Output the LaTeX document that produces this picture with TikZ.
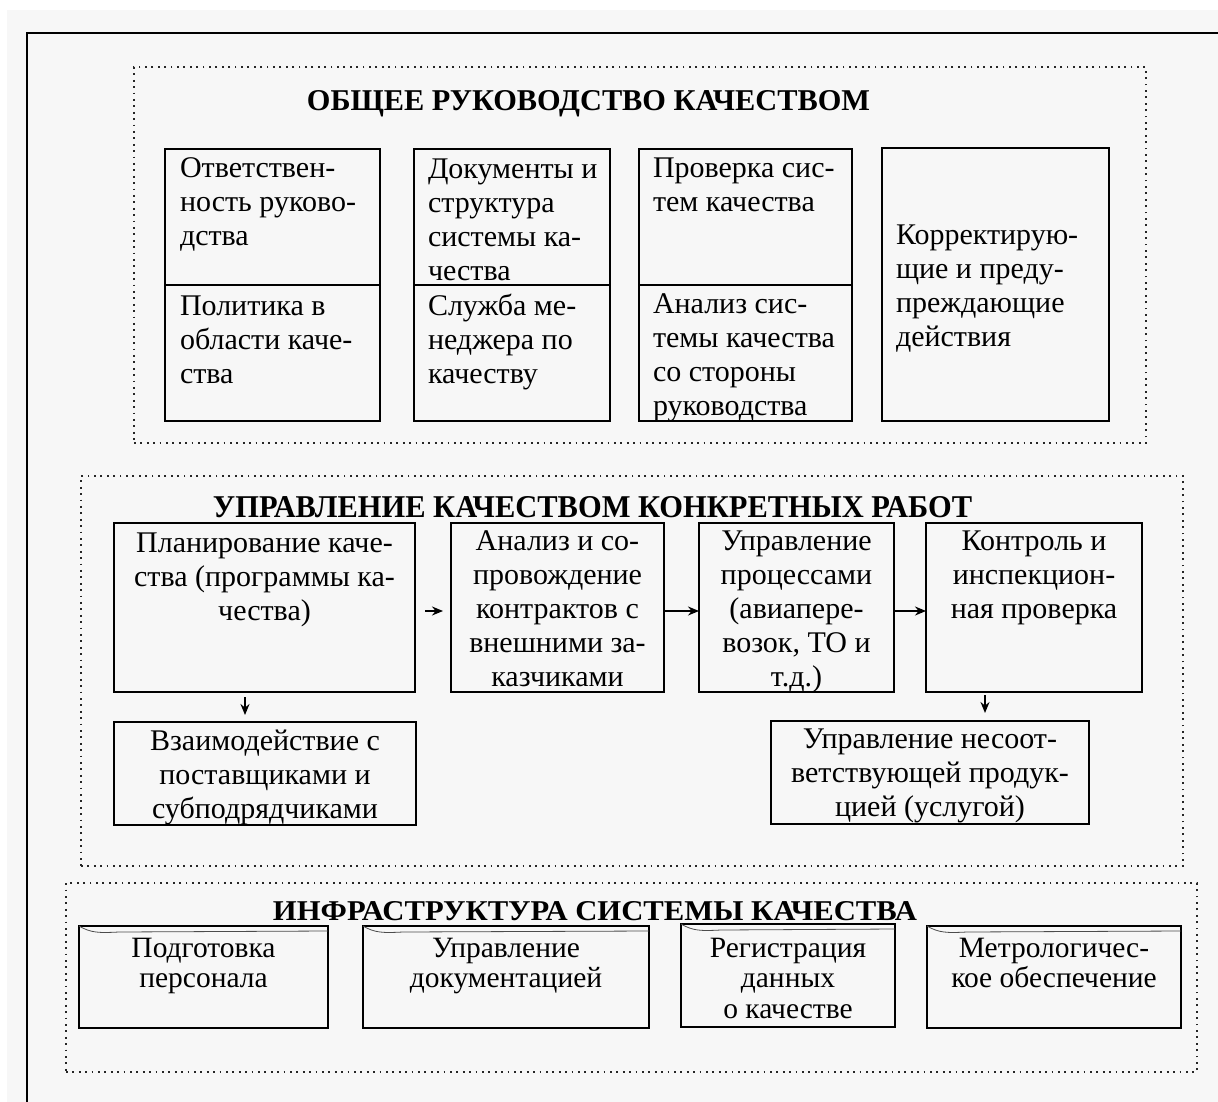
\documentclass[tikz,border=0pt]{standalone}
\usepackage{fontspec}
\usepackage{graphicx}
\setmainfont{Liberation Serif}
\usetikzlibrary{arrows.meta,calc}
\definecolor{paper}{HTML}{F7F7F7}
\newcommand\bodyfont{\fontsize{30}{34}\selectfont}
\newcommand\infrafont{\fontsize{29.5}{30.5}\selectfont}
\newcommand\fs{\rule{0pt}{22pt}}
\begin{document}
\begin{tikzpicture}[x=1pt,y=-1pt,
  every node/.style={inner sep=0pt, outer sep=0pt},
  grp/.style={draw=black!85, line width=1.7pt, dash pattern=on 1.8pt off 4.6pt, anchor=north west},
  bx/.style={draw, line width=1.6pt, anchor=north west},
  tl/.style={font=\bodyfont, align=left, anchor=north west},
  tc/.style={font=\bodyfont, align=center, anchor=north},
  ti/.style={font=\infrafont, align=center, anchor=north},
  ttl/.style={anchor=base},
  arr/.style={line width=1.7pt, -{Stealth[length=11pt,width=9pt]}},
  wav/.style={draw=black!70, line width=0.8pt},
]
\useasboundingbox (0,0) rectangle (1218,1102);
\fill[white] (0,0) rectangle (1218,1102);
\fill[paper] (7,10) rectangle (1218,1102);
% outer frame
\draw[line width=2.4pt] (27,1102) -- (27,33) -- (1218,33);

% ---------- group 1 ----------
\node[grp, minimum width=1012pt, minimum height=376pt] (G1) at (134,67) {};
\node[ttl] (T1) at (588.5,111) {\resizebox{563pt}{20pt}{\bfseries ОБЩЕЕ РУКОВОДСТВО КАЧЕСТВОМ}};

\node[bx, minimum width=215pt, minimum height=136pt] (A1) at (165,149) {};
\node[bx, minimum width=215pt, minimum height=136pt] (A2) at (165,285) {};
\node[bx, minimum width=196pt, minimum height=136pt] (B1) at (414,149) {};
\node[bx, minimum width=196pt, minimum height=136pt] (B2) at (414,285) {};
\node[bx, minimum width=213pt, minimum height=136pt] (C1) at (639,149) {};
\node[bx, minimum width=213pt, minimum height=136pt] (C2) at (639,285) {};
\node[bx, minimum width=227pt, minimum height=273pt] (D) at (882,148) {};

\node[tl] (tA1) at (180,156) {\fs Ответствен-\\ность руково-\\дства};
\node[tl] (tA2) at (180,293) {\fs Политика в\\области каче-\\ства};
\node[tl] (tB1) at (428,156) {\fs Документы и\\структура\\системы ка-\\чества};
\node[tl] (tB2) at (428,293) {\fs Служба ме-\\неджера по\\качеству};
\node[tl] (tC1) at (653,156) {\fs Проверка сис-\\тем качества};
\node[tl] (tC2) at (653,291) {\fs Анализ сис-\\темы качества\\со стороны\\руководства};
\node[tl] (tD) at (896,222) {\fs Корректирую-\\щие и преду-\\преждающие\\действия};

% ---------- group 2 ----------
\node[grp, minimum width=1102pt, minimum height=390pt] (G2) at (81,476) {};
\node[ttl] (T2) at (592.5,517) {\resizebox{759pt}{21pt}{\bfseries УПРАВЛЕНИЕ КАЧЕСТВОМ КОНКРЕТНЫХ РАБОТ}};

\node[bx, minimum width=301pt, minimum height=169pt] (P) at (114,523) {};
\node[bx, minimum width=213pt, minimum height=169pt] (Q) at (451,523) {};
\node[bx, minimum width=195pt, minimum height=169pt] (U) at (699,523) {};
\node[bx, minimum width=216pt, minimum height=169pt] (K) at (926,523) {};
\node[bx, minimum width=302pt, minimum height=103pt] (V) at (114,722) {};
\node[bx, minimum width=318pt, minimum height=103pt] (N) at (771,721) {};

\node[tc] (tP) at ($(P.north)+(0,7)$) {\fs Планирование каче-\\ства (программы ка-\\чества)};
\node[tc] (tQ) at ($(Q.north)+(0,5)$) {\fs Анализ и со-\\провождение\\контрактов с\\внешними за-\\казчиками};
\node[tc] (tU) at ($(U.north)+(0,5)$) {\fs Управление\\процессами\\(авиапере-\\возок, ТО и\\т.д.)};
\node[tc] (tK) at ($(K.north)+(0,5)$) {\fs Контроль и\\инспекцион-\\ная проверка};
\node[tc] (tV) at ($(V.north)+(0,6)$) {\fs Взаимодействие с\\поставщиками и\\субподрядчиками};
\node[tc] (tN) at ($(N.north)+(0,5)$) {\fs Управление несоот-\\ветствующей продук-\\цией (услугой)};

\draw[arr, shorten <=10pt, shorten >=8pt] ([yshift=-3.5pt]P.east) -- ([yshift=-3.5pt]Q.west);
\draw[arr] ([yshift=-3.5pt]Q.east) -- ([yshift=-3.5pt]U.west);
\draw[arr] ([yshift=-3.5pt]U.east) -- ([yshift=-3.5pt]K.west);
\coordinate (pv) at (245,0);
\coordinate (kn) at (985,0);
\draw[arr, shorten <=5pt, shorten >=7pt] (pv |- P.south) -- (pv |- V.north);
\draw[arr, shorten <=3pt, shorten >=8pt] (kn |- K.south) -- (kn |- N.north);

% ---------- group 3 ----------
\node[grp, minimum width=1131pt, minimum height=189pt] (G3) at (66,883) {};
\node[ttl] (T3) at (595,920) {\resizebox{644pt}{19pt}{\bfseries ИНФРАСТРУКТУРА СИСТЕМЫ КАЧЕСТВА}};

\node[bx, minimum width=249pt, minimum height=102pt] (I1) at (79,926) {};
\node[bx, minimum width=286pt, minimum height=102pt] (I2) at (363,926) {};
\node[bx, minimum width=214pt, minimum height=103pt] (I3) at (681,924) {};
\node[bx, minimum width=254pt, minimum height=102pt] (I4) at (927,926) {};
\foreach \b in {I1,I2,I3,I4}{
  \draw[wav] (\b.north west) .. controls ($(\b.north west)+(12,7)$) and ($(\b.north west)+(20,7)$) .. ($(\b.north west)+(40,6)$)
    -- ($(\b.north east)+(0,5)$);
}
\node[ti] (tI1) at ($(I1.north)+(0,9)$) {\fs Подготовка\\персонала};
\node[ti] (tI2) at ($(I2.north)+(0,9)$) {\fs Управление\\документацией};
\node[ti] (tI3) at ($(I3.north)+(0,11)$) {\fs Регистрация\\данных\\о качестве};
\node[ti] (tI4) at ($(I4.north)+(0,9)$) {\fs Метрологичес-\\кое обеспечение};
\end{tikzpicture}
\end{document}
